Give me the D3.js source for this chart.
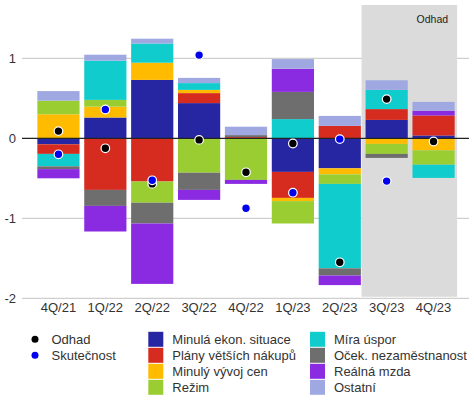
<!DOCTYPE html>
<html>
<head>
<meta charset="utf-8">
<script src="https://cdn.jsdelivr.net/npm/d3@7"></script>
<style>
  body { margin: 0; background: #fff; }
  svg { font-family: "Liberation Sans", Arial, sans-serif; }
</style>
</head>
<body>
<script>
// data
var quarters = ["4Q/21", "1Q/22", "2Q/22", "3Q/22", "4Q/22", "1Q/23", "2Q/23", "3Q/23", "4Q/23"];
var forecastQuarters = ["3Q/23", "4Q/23"];

var minulaEkon  = [-0.075, 0.26, 0.73, 0.44, 0, -0.42, -0.375, 0.23, 0.035];
var planyNakupu = [-0.12, -0.645, -0.54, 0.125, 0.015, -0.325, 0.155, 0.135, 0.25];
var vyvojCen    = [0.3, 0.135, 0.215, 0.04, 0, -0.04, -0.075, -0.07, -0.15];
var rezim       = [0.17, 0.085, -0.265, -0.43, -0.52, -0.28, -0.12, -0.125, -0.18];
var miraUspor   = [-0.155, 0.49, 0.24, 0.085, 0, 0.24, -1.055, 0.24, -0.165];
var nezamest    = [-0.035, -0.2, -0.26, -0.215, 0.025, 0.34, -0.09, -0.05, 0];
var realnaMzda  = [-0.115, -0.32, -0.755, -0.125, -0.05, 0.29, -0.12, 0, 0.06];
var ostatni     = [0.12, 0.075, 0.06, 0.065, 0.105, 0.12, 0.125, 0.12, 0.11];

var odhad      = [0.09, -0.125, -0.57, -0.02, -0.425, -0.065, -1.55, 0.49, -0.04];
var skutecnost = [-0.2, 0.36, -0.525, 1.04, -0.875, -0.68, -0.01, -0.535, null];

var yTicks = [1, 0, -1, -2];

var series = [
  {key: "Minulá ekon. situace", values: minulaEkon, color: "#2626a3"},
  {key: "Plány větších nákupů", values: planyNakupu, color: "#d62b1f"},
  {key: "Minulý vývoj cen", values: vyvojCen, color: "#ffbb00"},
  {key: "Režim", values: rezim, color: "#9acd32"},
  {key: "Míra úspor", values: miraUspor, color: "#11cccc"},
  {key: "Oček. nezaměstnanost", values: nezamest, color: "#6e6e6e"},
  {key: "Reálná mzda", values: realnaMzda, color: "#8a2be2"},
  {key: "Ostatní", values: ostatni, color: "#9fa8e0"}
];

var width = 474, height = 406;

var svg = d3.select("body").append("svg")
  .attr("width", width)
  .attr("height", height);

var x = d3.scaleBand()
  .domain(quarters)
  .range([35, 457])
  .paddingInner(0.1)
  .paddingOuter(0.05);

var y = d3.scaleLinear()
  .domain([-2, 1])
  .range([298.3, 58.3]);

// gridlines
svg.append("g").selectAll("line")
  .data(yTicks.filter(function(d) { return d !== 0; }))
  .enter().append("line")
  .attr("x1", 22).attr("x2", 469)
  .attr("y1", function(d) { return y(d); })
  .attr("y2", function(d) { return y(d); })
  .attr("stroke", "#c4c4c4")
  .attr("stroke-width", 1);

// forecast shading
var shadeX0 = x(forecastQuarters[0]) - 4;
var shadeX1 = x(forecastQuarters[1]) + x.bandwidth() + 2.5;
svg.append("rect")
  .attr("x", shadeX0)
  .attr("y", 5)
  .attr("width", shadeX1 - shadeX0)
  .attr("height", y(-2) - 1.5 - 5)
  .attr("fill", "#dbdbdb");

svg.append("text")
  .attr("x", shadeX1 - 9)
  .attr("y", 22.5)
  .attr("text-anchor", "end")
  .attr("font-size", "10.5px")
  .attr("fill", "#222")
  .text("Odhad");

// y tick labels
svg.append("g").selectAll("text")
  .data(yTicks)
  .enter().append("text")
  .attr("x", 16)
  .attr("y", function(d) { return y(d); })
  .attr("dy", "0.35em")
  .attr("text-anchor", "end")
  .attr("font-size", "13px")
  .attr("fill", "#333")
  .text(function(d) { return d; });

// stacked bars
var table = quarters.map(function(q, i) {
  var row = {quarter: q};
  series.forEach(function(s) { row[s.key] = s.values[i]; });
  return row;
});

var stack = d3.stack()
  .keys(series.map(function(s) { return s.key; }))
  .offset(d3.stackOffsetDiverging);

var stacked = stack(table);

svg.append("g").selectAll("g")
  .data(stacked)
  .enter().append("g")
  .attr("fill", function(d, i) { return series[i].color; })
  .selectAll("rect")
  .data(function(d) { return d; })
  .enter().append("rect")
  .attr("x", function(d) { return x(d.data.quarter); })
  .attr("width", x.bandwidth())
  .attr("y", function(d) { return y(Math.max(d[0], d[1])); })
  .attr("height", function(d) { return Math.abs(y(d[0]) - y(d[1])); });

// zero line
svg.append("line")
  .attr("x1", 22).attr("x2", 469)
  .attr("y1", y(0)).attr("y2", y(0))
  .attr("stroke", "#222")
  .attr("stroke-width", 1.2);

// x labels
svg.append("g").selectAll("text")
  .data(quarters)
  .enter().append("text")
  .attr("x", function(d) { return x(d) + x.bandwidth() / 2; })
  .attr("y", 311.5)
  .attr("text-anchor", "middle")
  .attr("font-size", "13px")
  .attr("fill", "#333")
  .text(function(d) { return d; });

// dots
var cx = function(d, i) { return x(quarters[i]) + x.bandwidth() / 2; };

svg.append("g").selectAll("circle")
  .data(odhad)
  .enter().append("circle")
  .attr("cx", cx)
  .attr("cy", function(d) { return y(d); })
  .attr("r", 4.3)
  .attr("fill", "#000")
  .attr("stroke", "#fff")
  .attr("stroke-width", 1.2);

svg.append("g").selectAll("circle")
  .data(skutecnost)
  .enter().append("circle")
  .filter(function(d) { return d !== null; })
  .attr("cx", cx)
  .attr("cy", function(d) { return y(d); })
  .attr("r", 4.3)
  .attr("fill", "#0000ee")
  .attr("stroke", "#fff")
  .attr("stroke-width", 1.2);

// legend
var rowY = function(i) { return 339.3 + i * 16; };

var dotLegend = [{label: "Odhad", color: "#000"}, {label: "Skutečnost", color: "#0000ee"}];
var lg1 = svg.append("g").selectAll("g")
  .data(dotLegend)
  .enter().append("g");
lg1.append("circle")
  .attr("cx", 35).attr("cy", function(d, i) { return rowY(i); })
  .attr("r", 3.5)
  .attr("fill", function(d) { return d.color; });
lg1.append("text")
  .attr("x", 51.5).attr("y", function(d, i) { return rowY(i); })
  .attr("dy", "0.35em")
  .attr("font-size", "13px")
  .attr("fill", "#333")
  .text(function(d) { return d.label; });

var lg2 = svg.append("g").selectAll("g")
  .data(series)
  .enter().append("g")
  .attr("transform", function(d, i) {
    var col = Math.floor(i / 4), row = i % 4;
    return "translate(" + (col === 0 ? 148.3 : 310) + "," + rowY(row) + ")";
  });
lg2.append("rect")
  .attr("x", 0).attr("y", -7.5)
  .attr("width", 15).attr("height", 15)
  .attr("fill", function(d) { return d.color; });
lg2.append("text")
  .attr("x", 24).attr("y", 0)
  .attr("dy", "0.35em")
  .attr("font-size", "13px")
  .attr("fill", "#333")
  .text(function(d) { return d.key; });
</script>
</body>
</html>
